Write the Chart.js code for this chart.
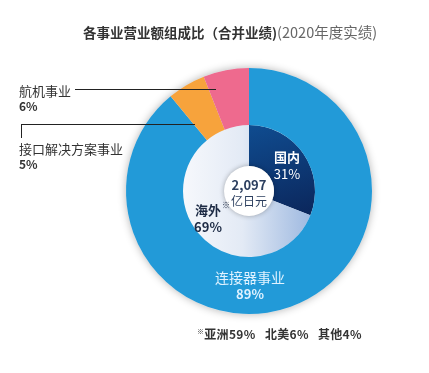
<!DOCTYPE html>
<html>
<head>
<meta charset="utf-8">
<script src="https://cdn.jsdelivr.net/npm/chart.js@4"></script>
<style>
  html, body { margin: 0; padding: 0; background: #fff; }
  body { width: 429px; height: 373px; position: relative; overflow: hidden;
         font-family: "Noto Sans CJK SC", "Noto Sans", sans-serif; color: #333; }
  #wrap { position: absolute; left: 0; top: 0; width: 429px; height: 373px; }
  .txt { position: absolute; white-space: nowrap; line-height: 1; }
  .title { left: 83px; top: 25px; font-size: 13.5px; font-weight: bold; color: #333; }
  .title span { font-weight: normal; color: #666; font-size: 14.5px; }
  .lbl { font-size: 13px; color: #333; }
  .pct { font-size: 12px; font-weight: bold; color: #333; }
  .line { position: absolute; background: #222; }
  .note { top: 328px; font-size: 12px; font-weight: bold; color: #333; letter-spacing: 0.3px; }
  .note sup { font-size: 7px; vertical-align: 5px; }
</style>
</head>
<body>
<div id="wrap"><canvas id="pie" width="429" height="373"></canvas></div>
<div id="texts"></div>
<script>
// chart data
const chartTitle = "各事业营业额组成比（合并业绩)";
const chartSubtitle = "(2020年度实绩)";
const segmentLabels = ["连接器事业", "接口解决方案事业", "航机事业"];
const segmentValues = [89, 5, 6];
const regionLabels = ["国内", "海外"];
const regionValues = [31, 69];
const totalValue = "2,097";
const totalUnit = "亿日元";
const overseasLabels = ["亚洲", "北美", "其他"];
const overseasValues = [59, 6, 4];

const texts = document.querySelector("#texts");
const addText = (cls, left, top, html) => {
	const div = document.createElement("div");
	div.className = "txt " + cls;
	div.style.left = left + "px";
	if (top !== null) div.style.top = top + "px";
	div.innerHTML = html;
	texts.append(div);
};
const addLine = (left, top, w, h) => {
	const div = document.createElement("div");
	div.className = "line";
	Object.assign(div.style, {left: left + "px", top: top + "px", width: w + "px", height: h + "px"});
	texts.append(div);
};

// title + side labels + footnote
addText("title", 83, 25, `${chartTitle}<span>${chartSubtitle}</span>`);
addText("lbl", 19, 84, segmentLabels[2]);
addText("pct", 19, 100, segmentValues[2] + "%");
addLine(75, 89, 141, 1);
addText("lbl", 19, 142, segmentLabels[1]);
addText("pct", 19, 158, segmentValues[1] + "%");
addLine(21, 124, 174, 1);
addLine(21, 124, 1, 14);
const noteX = [197, 265, 318];
overseasLabels.forEach((name, i) => {
	const mark = i === 0 ? "<sup>※</sup>" : "";
	addText("note", noteX[i], null, `${mark}${name}${overseasValues[i]}%`);
});

// gradient fills for the inner pie
const innerFill = (ctx) => {
	const chart = ctx.chart;
	const area = chart.chartArea;
	if (!area) return "#c8d8ee";
	const c = chart.ctx;
	const cx = (area.left + area.right) / 2;
	const cy = (area.top + area.bottom) / 2;
	if (ctx.dataIndex === 0) {
		const g = c.createLinearGradient(cx, cy - 66, cx + 30, cy + 40);
		g.addColorStop(0, "#0f4c90");
		g.addColorStop(1, "#0b2458");
		return g;
	}
	const g = c.createLinearGradient(cx - 66, cy, cx + 66, cy);
	g.addColorStop(0, "#f6f8fc");
	g.addColorStop(0.45, "#e3eaf5");
	g.addColorStop(1, "#9ab6df");
	return g;
};

// shadow behind ring, center disc and labels
const decor = {
	id: "decor",
	beforeDatasetsDraw(chart) {
		const {ctx, chartArea} = chart;
		const cx = (chartArea.left + chartArea.right) / 2;
		const cy = (chartArea.top + chartArea.bottom) / 2;
		const r = chart.getDatasetMeta(0).data[0].outerRadius;
		ctx.save();
		ctx.shadowColor = "rgba(0,0,0,0.3)";
		ctx.shadowBlur = 8;
		ctx.beginPath();
		ctx.arc(cx, cy, r, 0, Math.PI * 2);
		ctx.fillStyle = "#e8edf3";
		ctx.fill();
		ctx.restore();
	},
	afterDatasetsDraw(chart) {
		const {ctx, chartArea} = chart;
		const cx = (chartArea.left + chartArea.right) / 2;
		const cy = (chartArea.top + chartArea.bottom) / 2;
		ctx.save();
		ctx.shadowColor = "rgba(0,0,0,0.3)";
		ctx.shadowBlur = 5;
		ctx.beginPath();
		ctx.arc(cx, cy, 25, 0, Math.PI * 2);
		ctx.fillStyle = "#fff";
		ctx.fill();
		ctx.restore();

		ctx.save();
		ctx.textAlign = "center";
		ctx.textBaseline = "middle";
		const font = (size, w) => `${w} ${size}px "Noto Sans CJK SC", sans-serif`;
		// center total
		ctx.fillStyle = "#2c3f5f";
		ctx.font = font(13, "bold");
		ctx.fillText(totalValue, cx, cy - 6);
		ctx.font = font(12, "normal");
		ctx.fillText(totalUnit, cx, cy + 10);
		// domestic
		ctx.fillStyle = "#ffffff";
		ctx.font = font(13, "bold");
		ctx.fillText(regionLabels[0], cx + 38, cy - 34);
		ctx.font = font(13, "normal");
		ctx.fillText(regionValues[0] + "%", cx + 38, cy - 17);
		// overseas
		ctx.fillStyle = "#1c2a44";
		ctx.font = font(13, "bold");
		ctx.fillText(regionLabels[1], cx - 41, cy + 19);
		ctx.textAlign = "left";
		ctx.font = font(8, "normal");
		ctx.fillText("※", cx - 27, cy + 14);
		ctx.textAlign = "center";
		ctx.font = font(13, "bold");
		ctx.fillText(regionValues[1] + "%", cx - 41, cy + 36);
		// connectors
		ctx.fillStyle = "#dff2ff";
		ctx.font = font(14, "normal");
		ctx.fillText(segmentLabels[0], cx + 1, cy + 87);
		ctx.font = font(13, "bold");
		ctx.fillText(segmentValues[0] + "%", cx + 1, cy + 103);
		ctx.restore();
	}
};

new Chart(document.getElementById("pie"), {
	type: "doughnut",
	data: {
		labels: segmentLabels,
		datasets: [
			{
				data: segmentValues,
				backgroundColor: ["#229ad8", "#f7a33c", "#ee6a8e"],
				borderWidth: 0,
				weight: 57
			},
			{
				data: regionValues,
				backgroundColor: innerFill,
				borderWidth: 0,
				weight: 41
			}
		]
	},
	options: {
		responsive: false,
		animation: false,
		cutout: 25,
		layout: {padding: {left: 126, right: 57, top: 68, bottom: 59}},
		plugins: {
			legend: {display: false},
			tooltip: {enabled: false}
		}
	},
	plugins: [decor]
});
</script>
</body>
</html>
